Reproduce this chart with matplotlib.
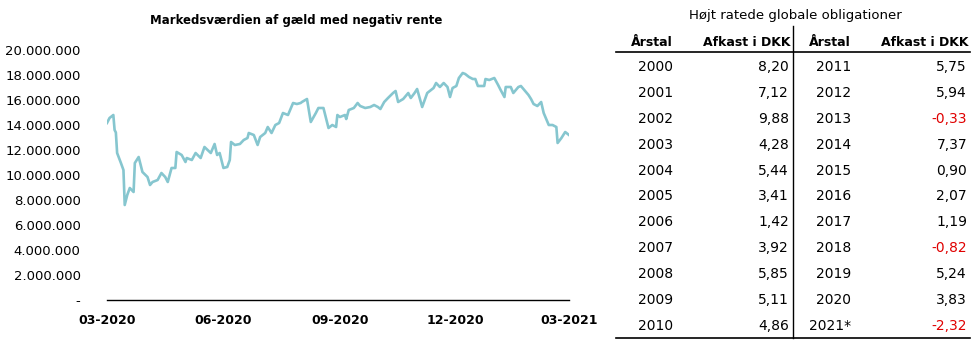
import datetime as dt

import matplotlib

matplotlib.use("Agg")
import matplotlib.dates as mdates
import matplotlib.pyplot as plt
from matplotlib.ticker import FuncFormatter, MultipleLocator

# --- line chart data: days after 2020-03-01, market value (millions) ---
start = dt.date(2020, 3, 1)
days = [0, 2, 5, 6, 7, 8, 11, 13, 14, 16, 18, 21, 22, 25, 28, 32, 34, 36, 40, 43,
        46, 48, 51, 54, 55, 59, 62, 63, 67, 70, 74, 77, 82, 85, 87, 89, 92, 95, 97, 98,
        101, 105, 108, 111, 112, 116, 119, 121, 125, 127, 130, 133, 136, 139, 143, 147,
        150, 153, 154, 158, 161, 165, 167, 171, 175, 178, 181, 182, 184, 188, 189, 191,
        195, 198, 200, 204, 208, 211, 214, 216, 219, 222, 226, 228, 230, 234, 238, 240,
        243, 245, 249, 253, 256, 258, 260, 263, 266, 269, 271, 273, 276, 278, 281, 283,
        286, 289, 291, 293, 298, 299, 302, 306, 309, 311, 314, 315, 319, 321, 325, 327,
        329, 333, 335, 337, 340, 343, 345, 349, 352, 355, 356, 359, 362, 365]
value_m = [14.16, 14.56, 14.8, 13.6, 13.4, 11.76, 10.96, 10.4, 7.6, 8.4, 8.96, 8.64,
           10.96, 11.44, 10.24, 9.84, 9.2, 9.44, 9.6, 10.16, 9.84, 9.44, 10.56, 10.56,
           11.84, 11.6, 11.04, 11.36, 11.2, 11.76, 11.36, 12.24, 11.76, 12.48, 11.6, 11.76,
           10.56, 10.64, 11.2, 12.64, 12.4, 12.48, 12.8, 12.96, 13.36, 13.2, 12.4, 13.04,
           13.36, 13.84, 13.36, 14.0, 14.16, 14.96, 14.8, 15.76, 15.68, 15.76, 15.84, 16.08,
           14.24, 14.96, 15.36, 15.36, 13.76, 14.0, 13.84, 14.8, 14.64, 14.8, 14.48, 15.2,
           15.36, 15.76, 15.52, 15.36, 15.44, 15.6, 15.44, 15.28, 15.84, 16.16, 16.56, 16.72,
           15.84, 16.08, 16.56, 16.16, 16.56, 16.88, 15.44, 16.56, 16.8, 16.96, 17.36, 17.04,
           17.36, 17.04, 16.24, 16.96, 17.12, 17.76, 18.16, 18.08, 17.84, 17.68, 17.68, 17.12,
           17.12, 17.68, 17.6, 17.76, 17.2, 16.8, 16.24, 17.04, 17.04, 16.56, 17.04, 17.12,
           16.88, 16.4, 16.08, 15.68, 15.52, 15.84, 14.96, 14.0, 14.0, 13.84, 12.56, 12.96,
           13.44, 13.2]

# --- table data ---
years_left = ["2000", "2001", "2002", "2003", "2004", "2005", "2006", "2007", "2008", "2009", "2010"]
returns_left = ["8,20", "7,12", "9,88", "4,28", "5,44", "3,41", "1,42", "3,92", "5,85", "5,11", "4,86"]
years_right = ["2011", "2012", "2013", "2014", "2015", "2016", "2017", "2018", "2019", "2020", "2021*"]
returns_right = ["5,75", "5,94", "-0,33", "7,37", "0,90", "2,07", "1,19", "-0,82", "5,24", "3,83", "-2,32"]

LINE = "#86c6cf"
RED = "#e00000"
W, H = 972, 340

dates = [start + dt.timedelta(days=d) for d in days]
values = [v * 1e6 for v in value_m]

fig = plt.figure(figsize=(W / 100, H / 100), dpi=100)

# line chart
ax = fig.add_axes([107 / W, 1 - 300 / H, (569 - 107) / W, 250 / H])
ax.plot(dates, values, color=LINE, lw=1.9, solid_joinstyle="round")
ax.set_xlim(dt.date(2020, 3, 1), dt.date(2021, 3, 1))
ax.set_ylim(0, 20e6)
ax.yaxis.set_major_locator(MultipleLocator(2e6))
ax.yaxis.set_major_formatter(FuncFormatter(
    lambda v, _: "-" if v == 0 else f"{v:,.0f}".replace(",", ".")))
ax.xaxis.set_major_locator(mdates.MonthLocator(bymonth=[3, 6, 9, 12]))
ax.xaxis.set_major_formatter(mdates.DateFormatter("%m-%Y"))
for s in ["top", "right", "left"]:
    ax.spines[s].set_visible(False)
ax.spines["bottom"].set_linewidth(1.0)
ax.tick_params(axis="y", length=0, pad=19, labelsize=9.5)
ax.tick_params(axis="x", length=0, pad=10, labelsize=9)
for lbl in ax.get_xticklabels():
    lbl.set_fontweight("bold")
ax.set_title("Markedsværdien af gæld med negativ rente", fontsize=8.5, fontweight="bold",
             pad=19, x=0.41)

# table drawn in pixel space
tx = fig.add_axes([0, 0, 1, 1])
tx.set_xlim(0, W)
tx.set_ylim(H, 0)
tx.axis("off")
tx.text(795, 15, "Højt ratede globale obligationer", ha="center", va="center", fontsize=9.5)
for x, txt in [(673, "Årstal"), (790, "Afkast i DKK"), (851, "Årstal"), (968, "Afkast i DKK")]:
    tx.text(x, 42, txt, ha="right", va="center", fontsize=9, fontweight="bold")
tx.plot([616, 970], [52, 52], color="black", lw=1.2)
tx.plot([616, 970], [338, 338], color="black", lw=1.2)
tx.plot([793, 793], [26, 338], color="black", lw=1.0)
for i in range(len(years_left)):
    y = 67 + i * 25.9
    tx.text(673, y, years_left[i], ha="right", va="center", fontsize=10)
    tx.text(789, y, returns_left[i], ha="right", va="center", fontsize=10,
            color=RED if returns_left[i].startswith("-") else "black")
    tx.text(851, y, years_right[i], ha="right", va="center", fontsize=10)
    tx.text(967, y, returns_right[i], ha="right", va="center", fontsize=10,
            color=RED if returns_right[i].startswith("-") else "black")

fig.savefig("out.png", dpi=100)
